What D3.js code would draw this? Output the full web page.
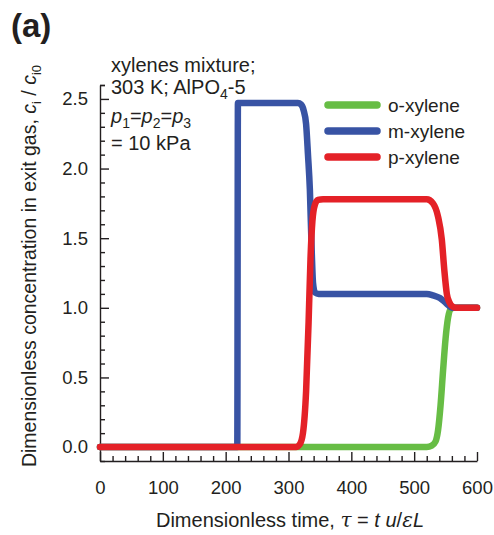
<!DOCTYPE html>
<html>
<head>
<meta charset="utf-8">
<script src="https://cdn.jsdelivr.net/npm/d3@7"></script>
<style>
  html, body { margin: 0; padding: 0; background: #fff; }
  svg { display: block; font-family: "Liberation Sans", Arial, sans-serif; }
  .axis path, .axis line { stroke: #231f20; stroke-width: 1.4; }
  .axis text { font-size: 18.5px; fill: #231f20; font-family: "Liberation Sans", Arial, sans-serif; }
</style>
</head>
<body>
<svg id="chart" width="494" height="535"></svg>
<script>
// Breakthrough curves of the xylene isomers, exit concentration vs dimensionless time
const seriesNames = ["o-xylene", "m-xylene", "p-xylene"];
const seriesColors = ["#67bd45", "#3853a4", "#e42127"];

const oTau = [0, 520, 528, 534, 538, 542, 546, 550, 554, 558, 563, 600];
const oVal = [0, 0, 0.01, 0.04, 0.12, 0.3, 0.55, 0.78, 0.93, 0.99, 1.0, 1.0];

const mTau = [0, 218.5, 219.5, 315, 320, 324, 328, 331, 334, 337, 339, 342, 348, 520, 530, 541, 548, 554, 560, 600];
const mVal = [0, 0, 2.47, 2.47, 2.46, 2.42, 2.32, 2.1, 1.85, 1.4, 1.18, 1.11, 1.1, 1.1, 1.09, 1.07, 1.045, 1.02, 1.0, 1.0];

const pTau = [0, 312, 318, 323, 328, 332, 335, 338, 342, 347, 355, 520, 530, 538, 544, 548, 552, 556, 561, 568, 600];
const pVal = [0, 0, 0.02, 0.1, 0.4, 0.9, 1.35, 1.62, 1.74, 1.775, 1.78, 1.78, 1.75, 1.655, 1.49, 1.27, 1.1, 1.04, 1.01, 1.0, 1.0];

const xMajor = [0, 100, 200, 300, 400, 500, 600];
const yMajor = [0.0, 0.5, 1.0, 1.5, 2.0, 2.5];

const series = [
  { name: seriesNames[0], color: seriesColors[0], tau: oTau, val: oVal },
  { name: seriesNames[1], color: seriesColors[1], tau: mTau, val: mVal },
  { name: seriesNames[2], color: seriesColors[2], tau: pTau, val: pVal }
];

const svg = d3.select("#chart");
const x = d3.scaleLinear().domain([0, 600]).range([100, 477]);
const y = d3.scaleLinear().domain([-0.1, 2.6]).range([461, 85]);

// Minor ticks (inside the frame)
const xMinor = d3.range(0, 601, 20).filter(v => v % 100 !== 0);
const yMinor = d3.range(-1, 27).map(v => v / 10).filter(v => Math.round(v * 10) % 5 !== 0);

svg.append("g").attr("class", "axis").attr("transform", `translate(0,${y(-0.1)})`)
  .call(d3.axisBottom(x).tickValues(xMinor).tickSize(-5).tickFormat(""))
  .call(g => g.select(".domain").remove());
svg.append("g").attr("class", "axis").attr("transform", `translate(0,${y(-0.1)})`)
  .call(d3.axisBottom(x).tickValues(xMajor).tickSizeInner(-9).tickSizeOuter(0).tickPadding(20).tickFormat(d3.format("d")));

svg.append("g").attr("class", "axis").attr("transform", `translate(${x(0)},0)`)
  .call(d3.axisLeft(y).tickValues(yMinor.concat([2.6])).tickSize(-5).tickFormat(""))
  .call(g => g.select(".domain").remove());
svg.append("g").attr("class", "axis").attr("transform", `translate(${x(0)},0)`)
  .call(d3.axisLeft(y).tickValues(yMajor).tickSizeInner(-9).tickSizeOuter(0).tickPadding(12).tickFormat(d3.format(".1f")));

// Curves
const line = d3.line().x(d => x(d[0])).y(d => y(d[1])).curve(d3.curveMonotoneX);
series.forEach(s => {
  svg.append("path")
    .datum(s.tau.map((t, i) => [t, s.val[i]]))
    .attr("fill", "none")
    .attr("stroke", s.color)
    .attr("stroke-width", 6.5)
    .attr("stroke-linejoin", "round")
    .attr("stroke-linecap", "round")
    .attr("d", line);
});

// Legend
const legend = svg.append("g").attr("transform", "translate(328,105)");
series.forEach((s, i) => {
  const g = legend.append("g").attr("transform", `translate(0,${i * 26})`);
  g.append("line").attr("x1", 0).attr("x2", 49).attr("y1", 0).attr("y2", 0)
    .attr("stroke", s.color).attr("stroke-width", 7.5).attr("stroke-linecap", "round");
  g.append("text").attr("x", 60).attr("y", 7).attr("font-size", 19).attr("fill", "#231f20").text(s.name);
});

// Panel label
svg.append("text").attr("x", 11).attr("y", 37).attr("font-size", 33).attr("font-weight", "bold")
  .attr("fill", "#231f20").text("(a)");

// Conditions note
const note = svg.append("g").attr("font-size", 20).attr("fill", "#231f20");
note.append("text").attr("x", 111).attr("y", 72).text("xylenes mixture;");
const l2 = note.append("text").attr("x", 111).attr("y", 94);
l2.append("tspan").text("303 K; AlPO");
l2.append("tspan").attr("font-size", 14).attr("dy", 5).text("4");
l2.append("tspan").attr("dy", -5).text("-5");
const l3 = note.append("text").attr("x", 111).attr("y", 123);
[["p", "1"], ["p", "2"], ["p", "3"]].forEach((pp, i) => {
  if (i > 0) l3.append("tspan").attr("dy", -5).text("=");
  l3.append("tspan").attr("font-style", "italic").text(pp[0]);
  l3.append("tspan").attr("font-size", 14).attr("dy", 5).text(pp[1]);
});
note.append("text").attr("x", 111).attr("y", 150).text("= 10 kPa");

// Axis titles
const xt = svg.append("text").attr("x", 290).attr("y", 527).attr("text-anchor", "middle")
  .attr("font-size", 20).attr("fill", "#231f20");
xt.append("tspan").text("Dimensionless time, ");
xt.append("tspan").attr("font-style", "italic").attr("font-family", "DejaVu Serif, serif").text("τ");
xt.append("tspan").text(" = ");
xt.append("tspan").attr("font-style", "italic").text("t u");
xt.append("tspan").text("/");
xt.append("tspan").attr("font-style", "italic").attr("font-family", "DejaVu Serif, serif").text("ε");
xt.append("tspan").attr("font-style", "italic").text("L");

const yt = svg.append("text").attr("transform", "translate(36,266) rotate(-90)").attr("text-anchor", "middle")
  .attr("font-size", 19.5).attr("fill", "#231f20");
yt.append("tspan").text("Dimensionless concentration in exit gas, ");
yt.append("tspan").attr("font-style", "italic").text("c");
yt.append("tspan").attr("font-size", 13).attr("dy", 5).text("i");
yt.append("tspan").attr("dy", -5).text(" / ");
yt.append("tspan").attr("font-style", "italic").text("c");
yt.append("tspan").attr("font-size", 13).attr("dy", 5).text("i0");
</script>
</body>
</html>
